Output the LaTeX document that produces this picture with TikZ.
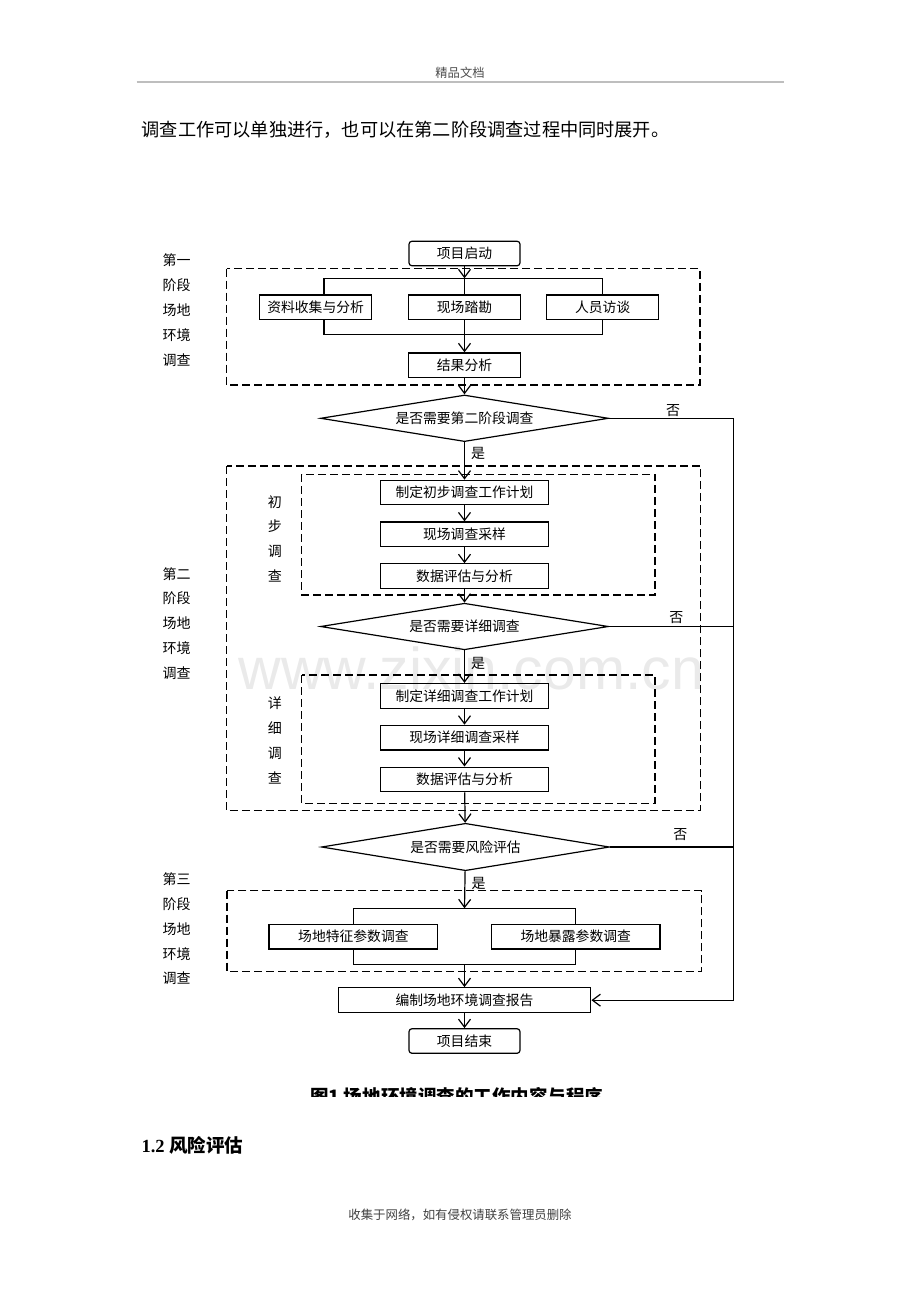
\documentclass[tikz,border=0pt]{standalone}
\usepackage{fontspec}
\setmainfont{Liberation Serif}
\newfontfamily\cjk{Noto Sans CJK SC}
\newfontfamily\wmfont{Liberation Sans}
\usetikzlibrary{arrows.meta,positioning,calc,shapes.geometric}
\tikzset{
  >={Straight Barb[length=8pt,width=12pt]},
  every picture/.append style={line width=1.2pt},
  every node/.append style={font=\cjk\fontsize{13.8}{16}\selectfont},
}
\tikzset{
  box/.style={draw, minimum width=112pt, minimum height=24.6pt, inner sep=0pt, align=center},
  widebox/.style={box, minimum width=168.7pt},
  term/.style={box, rounded corners=3pt, minimum width=111pt},
  decision/.style={diamond, draw, aspect=6, inner sep=0pt, minimum width=288pt, minimum height=46.6pt},
  stage/.style={draw, dash pattern=on 8pt off 4pt},
  arrow/.style={->},
  sidelabel/.style={align=center, inner sep=0pt, font=\cjk\fontsize{14}{24.9}\selectfont},
  yes/.style={right, inner sep=6pt, font=\cjk\fontsize{14}{16}\selectfont},
  no/.style={above, inner sep=0pt, font=\cjk\fontsize{14}{16}\selectfont}
}
\begin{document}
\begin{tikzpicture}[x=1pt, y=-1pt, node distance=16pt]
\definecolor{headgray}{RGB}{190,190,190}
\definecolor{markgray}{RGB}{234,234,234}
\useasboundingbox (0,0) rectangle (920,1302);

% watermark and page text
\node[anchor=base west, inner sep=0pt, text=markgray, font=\wmfont\fontsize{59}{59}\selectfont] (mark) at (238,689) {www.zixin.com.cn};
\node[text=black!70, font=\cjk\fontsize{12.3}{14}\selectfont] (head) at (460,73) {精品文档};
\draw[headgray, line width=1.6pt] (136.5,81.7) -- (784,81.7);
\node[anchor=west, inner sep=0pt, font=\cjk\fontsize{18.2}{20}\selectfont] (intro) at (141,130) {调查工作可以单独进行，也可以在第二阶段调查过程中同时展开。};

% stage frames
\draw[stage] (226.5,268.7) rectangle (700,385);
\draw[stage] (226.5,466) rectangle (700.4,810.7);
\draw[stage] (301.7,474.3) rectangle (655,595);
\draw[stage] (301.7,675) rectangle (655,803.3);
\draw[stage] (227,890.7) rectangle (701.7,971.7);

\node[sidelabel] (lab1) at (176.5,310) {第一\\阶段\\场地\\环境\\调查};
\node[sidelabel] (lab2) at (176.5,623.5) {第二\\阶段\\场地\\环境\\调查};
\node[sidelabel] (lab3) at (176.5,928.8) {第三\\阶段\\场地\\环境\\调查};
\node[sidelabel] (labpre) at (274.8,538.8) {初\\步\\调\\查};
\node[sidelabel] (labdet) at (274.8,740.5) {详\\细\\调\\查};

% stage 1
\node[term] (start) at (464.5,253.5) {项目启动};
\node[box] (docs) at (315.6,307.2) {资料收集与分析};
\node[box] (site) at (464.5,307.2) {现场踏勘};
\node[box] (talk) at (602.6,307.2) {人员访谈};
\node[box, below=32.2pt of site] (result) {结果分析};
\node[decision] (q1) at (464.5,418.3) {是否需要第二阶段调查};

% stage 2
\node[widebox] (plan1) at (464.5,492.5) {制定初步调查工作计划};
\node[widebox, below=of plan1] (samp1) {现场调查采样};
\node[widebox, below=of samp1] (eval1) {数据评估与分析};
\node[decision] (q2) at (464.5,626.5) {是否需要详细调查};
\node[widebox] (plan2) at (464.5,695.8) {制定详细调查工作计划};
\node[widebox, below=of plan2] (samp2) {现场详细调查采样};
\node[widebox, below=of samp2] (eval2) {数据评估与分析};
\node[decision, minimum height=47.4pt] (q3) at (465.5,847) {是否需要风险评估};

% stage 3
\node[widebox] (feat) at (353.4,936.7) {场地特征参数调查};
\node[widebox] (expo) at (575.7,936.7) {场地暴露参数调查};
\node[box, minimum width=252.7pt, minimum height=25pt] (report) at (464.5,1000.2) {编制场地环境调查报告};
\node[term] (finish) at (464.5,1041) {项目结束};

\coordinate (fork1) at (464.5,278.3);
\coordinate (fork1l) at (324,278.3);
\coordinate (fork1r) at (602.6,278.3);
\coordinate (join1l) at (324,334.7);
\coordinate (join1r) at (602.6,334.7);
\coordinate (fork3) at (464.5,908.3);
\coordinate (fork3l) at (353.4,908.3);
\coordinate (fork3r) at (575.7,908.3);
\coordinate (join3) at (464.5,964.3);
\coordinate (join3l) at (353.4,964.3);
\coordinate (join3r) at (575.7,964.3);
\coordinate (rail) at (733.5,0);

\draw[arrow] (start) -- (fork1);
\draw (fork1) -- (site);
\draw (fork1l |- docs.north) -- (fork1l) -- (fork1r) -- (talk);
\draw (join1l |- docs.south) -- (join1l) -- (join1r) -- (talk);
\draw[arrow] (site) -- (result);
\draw[arrow] (result) -- (q1);
\draw[arrow] (q1) -- node[yes, pos=0.3]{是} (plan1);
\draw[arrow] (plan1) -- (samp1);
\draw[arrow] (samp1) -- (eval1);
\draw[arrow] (eval1) -- (q2);
\draw[arrow] (q2) -- node[yes, pos=0.39]{是} (plan2);
\draw[arrow] (plan2) -- (samp2);
\draw[arrow] (samp2) -- (eval2);
\draw[arrow] (eval2) -- (q3);
\draw[arrow] (q3) -- node[yes, pos=0.32]{是} (fork3);
\draw (fork3l) -- (fork3r);
\draw (fork3l) -- (feat);
\draw (fork3r) -- (expo);
\draw (feat) -- (join3l) -- (join3r) -- (expo);
\draw[arrow] (join3) -- (report);
\draw[arrow] (report) -- (finish);

% no branches
\draw[arrow] (q1.east) -- node[no, pos=0.515, yshift=1pt]{否} (q1.east -| rail) |- (report.east);
\draw (q2.east) -- node[no, pos=0.54, yshift=2pt]{否} (q2.east -| rail);
\draw (q3.east) -- node[no, pos=0.57, yshift=6pt]{否} (q3.east -| rail);

% caption and section
\begin{scope}
\clip (0,0) rectangle (920,1096.8);
\node[anchor=base, inner sep=0pt, font=\cjk\bfseries\fontsize{18.5}{20}\selectfont] (caption) at (456.5,1103.4) {图1\ 场地环境调查的工作内容与程序};
\end{scope}
\node[anchor=west, inner sep=0pt, font=\bfseries\fontsize{18.5}{20}\selectfont] (sec) at (141,1145) {1.2 {\cjk 风险评估}};
\node[text=black!75, font=\cjk\fontsize{12.4}{14}\selectfont] (foot) at (460,1215) {收集于网络，如有侵权请联系管理员删除};
\end{tikzpicture}
\end{document}
